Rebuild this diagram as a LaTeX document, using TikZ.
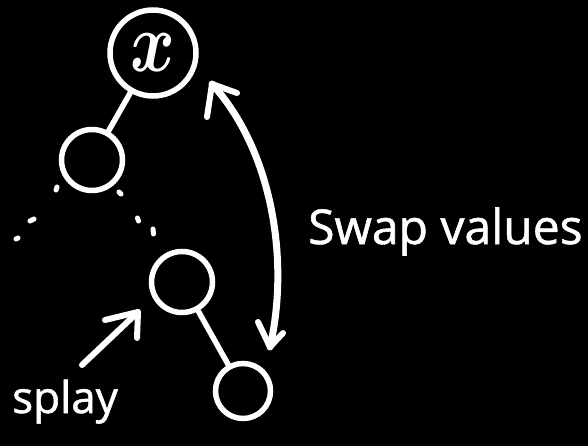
\documentclass[tikz,border=0pt]{standalone}
\usepackage{fontspec}
\usepackage{graphicx}
\setmainfont{Open Sans}
\newfontfamily\markerfont{Open Sans}[FakeBold=1.2]
\begin{document}
\begin{tikzpicture}[x=1pt,y=-1pt]
\tikzset{
  chalk/.style={draw=white, line width=5.5pt},
  treenode/.style={circle, chalk, text=white, inner sep=0pt, minimum size=#1},
  edge/.style={white, line width=5.5pt, line cap=round},
  speck/.style={white, line width=5pt, line cap=round},
  bigarrow/.style={white, line width=7pt, line cap=round, line join=round},
  thinarrow/.style={white, line width=6pt, line cap=round, line join=round},
  note/.style={text=white, inner sep=0pt, anchor=base west},
}
\useasboundingbox (0,0) rectangle (588,446);
\fill[black] (0,0) rectangle (588,446);

% tree nodes
\node[treenode=86pt] (top) at (153,53) {\scalebox{6.8}[8.5]{\boldmath$x$}};
\node[treenode=61pt] (c2) at (92,160) {};
\node[treenode=61pt] (c3) at (182,282) {};
\node[treenode=55pt] (c4) at (243,391) {};

% tree edges
\draw[edge] (top) -- (c2);
\draw[edge] (c3) -- (c4);

% dotted continuation below the second node
\draw[speck] (56,190) -- (57,187);
\draw[speck] (30,221) -- (34,219);
\draw[speck] (16,239) -- (18,238);
\draw[speck] (119,192) -- (121,194);
\draw[speck] (137.5,218) -- (138.5,221);
\draw[speck] (153,229) -- (153.5,234);

% swap arrow between the root and the bottom node
\coordinate (swaptop) at (212,84);
\coordinate (swapbot) at (270,347);
\coordinate (tb1) at (207,117);
\coordinate (tb2) at (237,93);
\coordinate (bb1) at (258,322);
\coordinate (bb2) at (283,333);
\draw[bigarrow] (swaptop) .. controls (272,150) and (290,260) .. (swapbot);
\draw[thinarrow] (tb1) -- (swaptop) -- (tb2);
\draw[thinarrow] (bb1) -- (swapbot) -- (bb2);

% splay arrow
\coordinate (splaytail) at (82,365);
\coordinate (splaytip) at (138,312);
\coordinate (sb1) at (105,320);
\coordinate (sb2) at (137,338);
\draw[thinarrow] (splaytail) -- (splaytip);
\draw[thinarrow] (sb1) -- (splaytip) -- (sb2);

% labels
\node[note, font=\markerfont\fontsize{48}{48}\selectfont] (swaplabel) at (308,244) {Swap values};
\node[note, font=\markerfont\fontsize{44}{44}\selectfont] (splaylabel) at (12,413) {splay};
\end{tikzpicture}
\end{document}
